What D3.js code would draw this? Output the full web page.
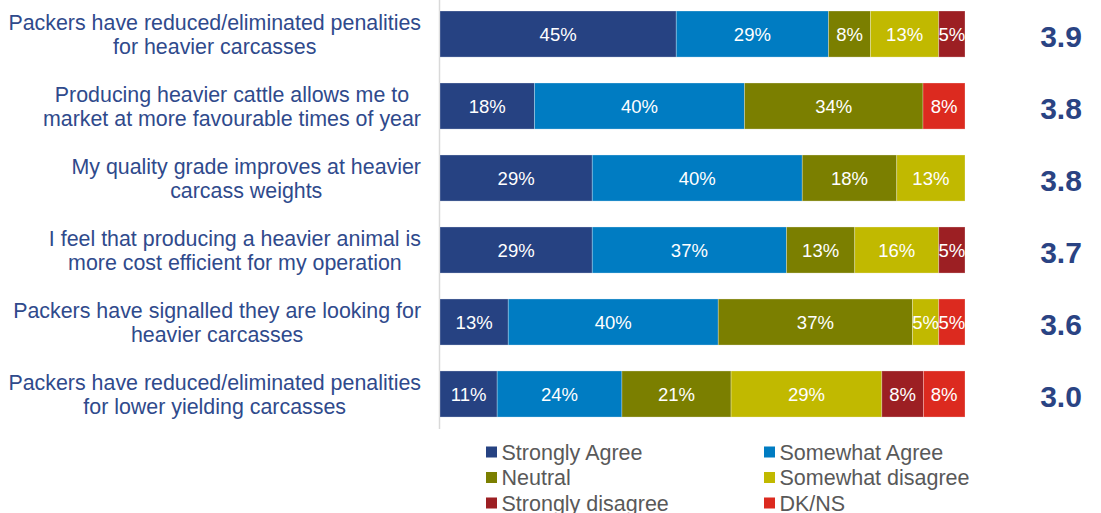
<!DOCTYPE html>
<html>
<head>
<meta charset="utf-8">
<script src="https://cdn.jsdelivr.net/npm/d3@7"></script>
<style>
  html, body { margin: 0; padding: 0; background: #ffffff; }
  svg { display: block; font-family: "Liberation Sans", Arial, sans-serif; }
</style>
</head>
<body>
<svg id="chart" width="1101" height="513"></svg>
<script>
// Survey statements (two lines each) and their mean agreement scores
const statements = [
  ["Packers have reduced/eliminated penalities", "for heavier carcasses"],
  ["Producing heavier cattle allows me to", "market at more favourable times of year"],
  ["My quality grade improves at heavier", "carcass weights"],
  ["I feel that producing a heavier animal is", "more cost efficient for my operation"],
  ["Packers have signalled they are looking for", "heavier carcasses"],
  ["Packers have reduced/eliminated penalities", "for lower yielding carcasses"]
];
const scores = ["3.9", "3.8", "3.8", "3.7", "3.6", "3.0"];

// Response categories, in stacking order
const responses = ["Strongly Agree", "Somewhat Agree", "Neutral", "Somewhat disagree", "Strongly disagree", "DK/NS"];

// Percent of respondents per response, one array per response category
const stronglyAgree    = [45, 18, 29, 29, 13, 11];
const somewhatAgree    = [29, 40, 40, 37, 40, 24];
const neutral          = [8, 34, 18, 13, 37, 21];
const somewhatDisagree = [13, 0, 13, 16, 5, 29];
const stronglyDisagree = [5, 0, 0, 5, 0, 8];
const dkns             = [0, 8, 0, 0, 5, 8];

const colors = ["#264282", "#007cc2", "#7b7f00", "#c1b900", "#9c1f23", "#dc2a1f"];

const seriesValues = [stronglyAgree, somewhatAgree, neutral, somewhatDisagree, stronglyDisagree, dkns];
const rows = statements.map((s, i) => {
  const r = { id: i };
  responses.forEach((k, j) => { r[k] = seriesValues[j][i]; });
  return r;
});

const svg = d3.select("#chart");

const y = d3.scaleBand()
  .domain(d3.range(statements.length))
  .range([-1.96, 430])
  .paddingInner(0.36)
  .paddingOuter(0.18);

const x = d3.scaleLinear().domain([0, 1]).range([440, 965]);
const color = d3.scaleOrdinal().domain(responses).range(colors);

// 100% stacked layout
const stacked = d3.stack().keys(responses).offset(d3.stackOffsetExpand)(rows);

// Category axis line
svg.append("line")
  .attr("x1", 439.5).attr("x2", 439.5)
  .attr("y1", 0).attr("y2", 429)
  .attr("stroke", "#d9d9d9").attr("stroke-width", 1.5);

const layers = svg.append("g").selectAll("g")
  .data(stacked)
  .join("g")
  .attr("fill", d => color(d.key));

layers.selectAll("rect")
  .data(d => d.map(v => Object.assign(v, { key: d.key })))
  .join("rect")
  .filter(d => d.data[d.key] > 0)
  .attr("x", d => x(d[0]))
  .attr("y", d => y(d.data.id))
  .attr("width", d => x(d[1]) - x(d[0]))
  .attr("height", y.bandwidth())
  .attr("stroke", "rgba(255,255,255,0.35)")
  .attr("stroke-width", 0.8);

// Segment value labels
layers.selectAll("text")
  .data(d => d.filter(v => v.data[d.key] > 0))
  .join("text")
  .attr("x", d => (x(d[0]) + x(d[1])) / 2)
  .attr("y", d => y(d.data.id) + y.bandwidth() / 2)
  .attr("dy", "0.36em")
  .attr("text-anchor", "middle")
  .attr("fill", "#ffffff")
  .attr("font-size", 18.5)
  .text(d => d.data[d.key] + "%");

// Statement labels: lines centered on each other, block right-aligned to the axis
const labelColor = "#2f4a8c";
statements.forEach((lines, i) => {
  const g = svg.append("g");
  const cy = y(i) + y.bandwidth() / 2;
  const texts = lines.map((t, k) => g.append("text")
    .attr("y", cy + (k === 0 ? -12 : 12))
    .attr("dy", "0.36em")
    .attr("text-anchor", "middle")
    .attr("fill", labelColor)
    .attr("font-size", 21.4)
    .text(t));
  const w = d3.max(texts, t => t.node().getComputedTextLength());
  texts.forEach(t => t.attr("x", 421 - w / 2));
});

// Mean scores
svg.append("g").selectAll("text")
  .data(scores)
  .join("text")
  .attr("x", 1061)
  .attr("y", (d, i) => y(i) + y.bandwidth() / 2 + 2)
  .attr("dy", "0.36em")
  .attr("text-anchor", "middle")
  .attr("fill", "#2a4383")
  .attr("font-size", 30)
  .attr("font-weight", "bold")
  .text(d => d);

// Legend, two columns
const legend = svg.append("g").selectAll("g")
  .data(responses)
  .join("g")
  .attr("transform", (d, i) => `translate(${i % 2 === 0 ? 486 : 764}, ${452 + Math.floor(i / 2) * 25.5})`);

legend.append("rect")
  .attr("x", 0).attr("y", -5.5)
  .attr("width", 11).attr("height", 11)
  .attr("fill", d => color(d));

legend.append("text")
  .attr("x", 15.5)
  .attr("dy", "0.36em")
  .attr("fill", "#595959")
  .attr("font-size", 21.5)
  .text(d => d);
</script>
</body>
</html>
